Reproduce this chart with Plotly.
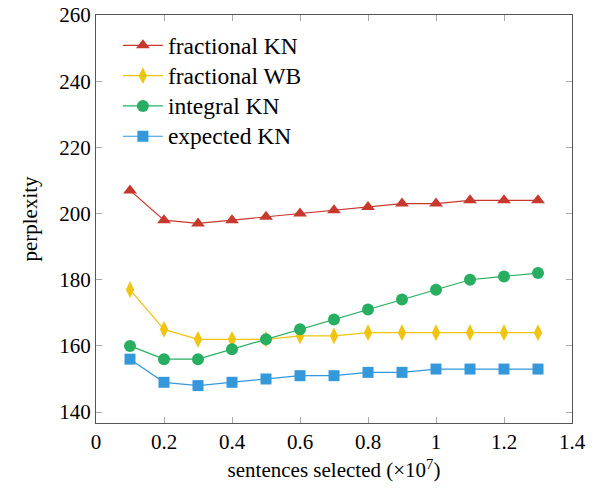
import plotly.graph_objects as go

x_vals = [0.1, 0.2, 0.3, 0.4, 0.5, 0.6, 0.7, 0.8, 0.9, 1.0, 1.1, 1.2, 1.3]
frac_kn = [207, 198, 197, 198, 199, 200, 201, 202, 203, 203, 204, 204, 204]
frac_wb = [177, 165, 162, 162, 162, 163, 163, 164, 164, 164, 164, 164, 164]
integral_kn = [160, 156, 156, 159, 162, 165, 168, 171, 174, 177, 180, 181, 182]
expected_kn = [156, 149, 148, 149, 150, 151, 151, 152, 152, 153, 153, 153, 153]

series = [
    ("fractional KN", frac_kn, "#c8382c", "triangle-up", 12),
    ("fractional WB", frac_wb, "#f1c40f", "diamond-tall", 12),
    ("integral KN", integral_kn, "#27ae60", "circle", 12),
    ("expected KN", expected_kn, "#3498db", "square", 11),
]

font = "Liberation Serif, Times New Roman, serif"
fig = go.Figure()
for name, ys, color, sym, size in series:
    fig.add_trace(go.Scatter(
        x=x_vals, y=ys, name='<span style="font-size:23.5px">' + name + '</span>',
        mode="lines+markers",
        line=dict(color=color, width=1.2),
        marker=dict(symbol=sym, size=size, color=color, line=dict(width=0)),
    ))

axis_common = dict(
    showgrid=False, zeroline=False, showline=True, linecolor="#555555", linewidth=1.2,
    mirror="ticks", ticks="inside", ticklen=6, tickcolor="#aaaaaa", tickwidth=1.2,
    tickfont=dict(family=font, size=21, color="black"), automargin=False,
    ticklabeloverflow="allow",
)

fig.update_layout(
    width=587, height=480,
    margin=dict(l=88, r=23, t=7, b=65),
    paper_bgcolor="white", plot_bgcolor="white",
    font=dict(family=font, color="black"),
    xaxis=dict(range=[0, 1.4], tickvals=[0, 0.2, 0.4, 0.6, 0.8, 1, 1.2, 1.4],
               ticktext=["0", "0.2", "0.4", "0.6", "0.8", "1", "1.2", "1.4"],
               title=dict(text="sentences selected (×10<sup>7</sup>)", font=dict(family=font, size=21), standoff=9),
               **axis_common),
    yaxis=dict(range=[136.7, 260], tickvals=[140, 160, 180, 200, 220, 240, 260],
               title=dict(text="perplexity", font=dict(family=font, size=21), standoff=15),
               **axis_common),
    legend=dict(x=0.046, y=0.975, xanchor="left", yanchor="top",
                font=dict(family=font, size=21), bgcolor="rgba(0,0,0,0)",
                tracegroupgap=0, itemwidth=40),
    showlegend=True,
)

fig.write_html("out.html")
